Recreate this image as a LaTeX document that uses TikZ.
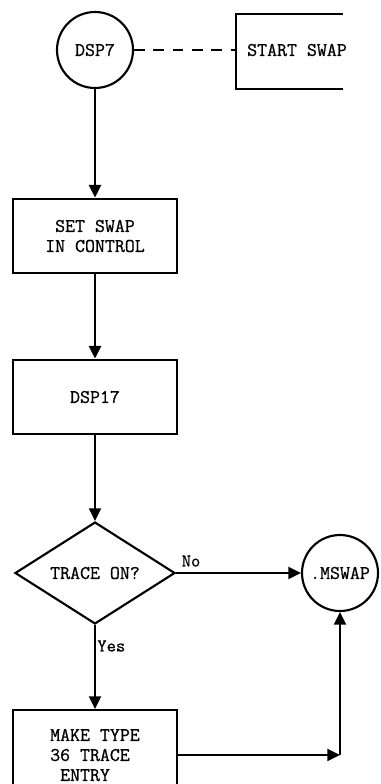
\documentclass[tikz,border=0pt]{standalone}
\usepackage{fontspec}
\newfontfamily\twfont[FakeBold=0.8]{Latin Modern Mono}
\usetikzlibrary{arrows.meta,shapes.geometric}
\begin{document}
\begin{tikzpicture}[x=0.75pt,y=-0.75pt,
  every node/.style={font=\twfont\fontsize{14.5}{15}\selectfont},
  line/.style={line width=1.6pt},
  arr/.style={line width=1.6pt,-{Triangle[width=9pt,length=9.5pt]}},
  boxnode/.style={draw,line width=1.6pt,rectangle,minimum width=123pt,minimum height=56pt,inner sep=0pt,align=center},
  circnode/.style={draw,line width=1.6pt,circle,minimum size=57pt,inner sep=0pt},
  decision/.style={draw,line width=1.6pt,diamond,minimum width=120pt,minimum height=74pt,inner sep=0pt},
  lab/.style={font=\twfont\fontsize{13.5}{15}\selectfont,inner sep=1pt}]
\useasboundingbox (0,0) rectangle (380,784);
\clip (0,0) rectangle (380,784);
% top
\node[circnode] (dsp7) at (95,50) {DSP7};
\node (ss) at (297,50) {START SWAP};
\coordinate (ssl) at (236,50);
\draw[line] (343,14) -- (236,14) -- (236,89) -- (343,89);
\draw[line,dash pattern=on 8pt off 6.5pt] (dsp7.east) -- (ssl);
% boxes
\node[boxnode] (set) at (95,236) {SET SWAP\\IN CONTROL};
\node[boxnode] (d17) at (95,397) {DSP17};
\node[decision] (tr) at (95,573) {TRACE ON?};
\node[circnode] (ms) at (340,573) {.MSWAP};
\node[boxnode,minimum height=67.5pt,align=left] (mk) at (95,755) {MAKE TYPE\\36 TRACE\\\ ENTRY};
\coordinate (cr) at (340,755);
% connectors
\draw[arr] (dsp7.south) -- (set.north);
\draw[arr] (set.south) -- (d17.north);
\draw[arr] (d17.south) -- (tr.north);
\draw[arr] (tr.east) -- node[lab,above=3pt,pos=0.12] {No} (ms.west);
\draw[arr] (tr.south) -- node[lab,right,pos=0.25] {Yes} (mk.north);
\draw[arr] (mk.east) -- (cr);
\draw[arr] (cr) -- (ms.south);
\end{tikzpicture}
\end{document}
